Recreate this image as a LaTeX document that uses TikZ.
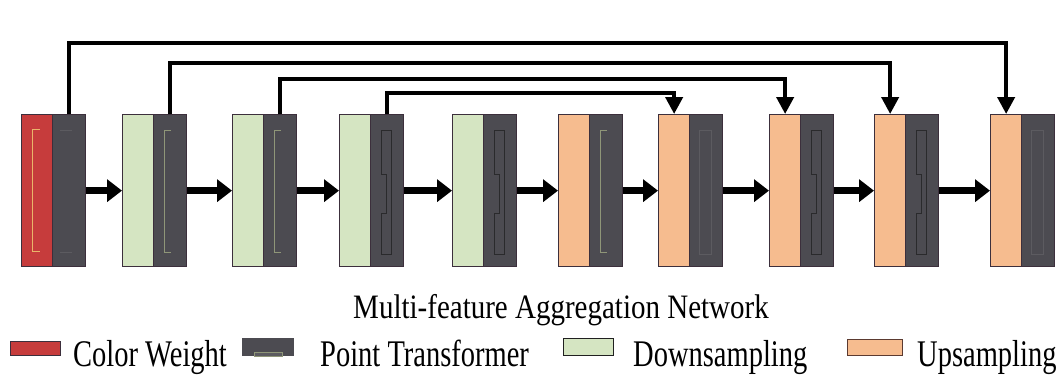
\documentclass[tikz,border=0pt]{standalone}
\usepackage{graphicx}
\usepackage{fontspec}
\setmainfont{Liberation Serif}
\usetikzlibrary{arrows.meta}

\definecolor{cwred}{HTML}{C63C3C}
\definecolor{ptdark}{HTML}{4C4B51}
\definecolor{dsgreen}{HTML}{D5E5C2}
\definecolor{usorange}{HTML}{F6BC8F}
\definecolor{blockedge}{HTML}{3C2F3C}
\definecolor{lightdetail}{HTML}{8F9678}
\definecolor{darkdetail}{HTML}{2A2A2C}
\definecolor{faintdetail}{HTML}{5C5B60}
\definecolor{golddetail}{HTML}{E9B56A}
\definecolor{swatchbrown}{HTML}{5B3A30}

\tikzset{
  half/.style={draw=blockedge, line width=1.3pt, inner sep=0pt, anchor=north west, minimum height=152pt},
  inpart/.style={half, minimum width=31pt},
  ptpart/.style={half, fill=ptdark, minimum width=33pt},
  flow/.style={line width=6.5pt, -{Triangle[length=15pt,width=22pt]}},
  skip/.style={line width=4pt, line join=miter, -{Triangle[length=17pt,width=17pt]}},
  notch/.style={draw=darkdetail, line width=0.8pt},
  bracket/.style={draw=lightdetail, line width=0.7pt},
  faint/.style={draw=faintdetail, line width=0.7pt},
  swatch/.style={inner sep=0pt, anchor=north west, line width=1.2pt},
  legtext/.style={inner sep=0pt, anchor=base west, font=\fontsize{28.5}{30}\selectfont},
}

\begin{document}
\begin{tikzpicture}[x=1pt, y=-1pt]
\useasboundingbox (0,0) rectangle (1061,376);

% ---- blocks: input part + point transformer part ----
\node[inpart, fill=cwred] (a1) at (21,114) {};
\node[ptpart] (b1) at (52,114) {};
\foreach \i/\x in {2/122,3/232,4/339,5/452}{
  \node[inpart, fill=dsgreen] (a\i) at (\x,114) {};
  \node[ptpart] (b\i) at (\x+31,114) {};
}
\foreach \i/\x in {6/558,7/658,8/769,9/874,10/990}{
  \node[inpart, fill=usorange] (a\i) at (\x,114) {};
  \node[ptpart] (b\i) at (\x+31,114) {};
}

% ---- thin inner details ----
\begin{scope}[shift={(a1.north west)}]
  \draw[golddetail, line width=0.7pt] (19,15) -- (11,15) -- (11,137) -- (19,137);
\end{scope}
\begin{scope}[shift={(b1.north west)}]
  \draw[faint] (8,16) -- (20,16);
  \draw[faint] (8,138) -- (20,138);
\end{scope}
\foreach \i in {2,3,6}{
  \begin{scope}[shift={(b\i.north west)}]
    \draw[bracket] (18,16) -- (11,16) -- (11,138) -- (18,138);
  \end{scope}
}
\foreach \i in {4,5,8,9}{
  \begin{scope}[shift={(b\i.north west)}]
    \draw[notch] (11,16) -- (21,16) -- (21,140) -- (11,140) -- (11,99)
                 -- (16,99) -- (16,60) -- (11,60) -- cycle;
  \end{scope}
}
\foreach \i in {7,10}{
  \begin{scope}[shift={(b\i.north west)}]
    \draw[faint] (10,16) rectangle (22,140);
  \end{scope}
}

% ---- forward flow ----
\foreach \i [evaluate=\i as \j using int(\i+1)] in {1,...,9}
  \draw[flow] (b\i.east) -- (a\j.west);

% ---- skip connections ----
\draw[skip] (b1.north) -- (b1.north |- 0,43) -| (a10.north);
\draw[skip] (b2.north) -- (b2.north |- 0,63) -| (a9.north);
\draw[skip] (b3.north) -- (b3.north |- 0,79) -| (a8.north);
\draw[skip] (b4.north) -- (b4.north |- 0,93) -| (a7.north);

% ---- title ----
\node[inner sep=0pt, anchor=base, font=\fontsize{29}{31}\selectfont] (title) at (561,318)
  {\scalebox{1}[1.18]{Multi-feature Aggregation Network}};

% ---- legend ----
\node[swatch, fill=cwred, draw=blockedge, minimum width=50pt, minimum height=14pt] (lgcw) at (10,341) {};
\node[legtext] (tcw) at (73,366) {\scalebox{1}[1.32]{Color Weight}};

\node[swatch, fill=ptdark, draw=ptdark, minimum width=51pt, minimum height=17pt] (lgpt) at (242,338) {};
\draw[fill=faintdetail, draw=lightdetail, line width=0.6pt]
  ([xshift=-14pt]lgpt.south) rectangle ([xshift=14pt, yshift=4pt]lgpt.south);
\node[legtext] (tpt) at (320,366) {\scalebox{1}[1.32]{Point Transformer}};

\node[swatch, fill=dsgreen, draw=gray!25!black, minimum width=50pt, minimum height=17pt] (lgds) at (563,338) {};
\node[legtext] (tds) at (633,366) {\scalebox{1}[1.32]{Downsampling}};

\node[swatch, fill=usorange, draw=swatchbrown, minimum width=55pt, minimum height=16pt] (lgus) at (847,339) {};
\node[legtext] (tus) at (917,366) {\scalebox{1}[1.32]{Upsampling}};
\end{tikzpicture}
\end{document}
